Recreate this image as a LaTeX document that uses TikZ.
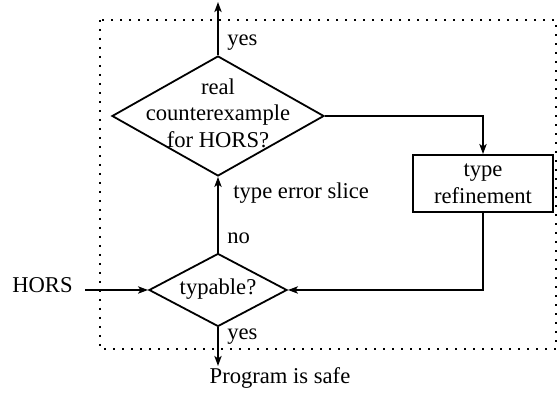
\documentclass[tikz,border=0pt]{standalone}
\usepackage{fontspec}
\setmainfont{Liberation Serif}
\usetikzlibrary{shapes.geometric,arrows.meta}
\begin{document}
\begin{tikzpicture}[x=0.5pt,y=-0.5pt,
  every node/.style={font=\fontsize{11.3}{13.3}\selectfont},
  flow/.style={line width=0.9pt,-{Stealth[length=5pt,width=3.6pt,inset=1.2pt]}},
  plain/.style={line width=0.9pt},
  dec/.style={diamond,draw,line width=0.9pt,inner sep=0pt},
  procbox/.style={rectangle,draw,line width=0.9pt,inner sep=0pt,minimum width=70pt,minimum height=28.5pt,align=center},
  lbl/.style={anchor=west,inner sep=0pt}]
\useasboundingbox (0,0) rectangle (558,394);
\draw[dotted,line width=1pt,dash pattern=on 0.9pt off 3.6pt] (100,20) rectangle (556,349);
% nodes
\node[dec,minimum width=106pt,minimum height=60pt] (q1) at (218,116) {};
\node[align=center,inner sep=0pt] (q1t) at (218,113) {real\\counterexample\\for HORS?};
\node[dec,minimum width=69pt,minimum height=36.5pt] (q2) at (218,290) {};
\node[inner sep=0pt] (q2t) at (218,289) {typable?};
\node[procbox] (ref) at (483,183.5) {type\\refinement};
\node[anchor=east,inner sep=0pt] (hors) at (73,285) {HORS};
\node[inner sep=0pt] (safe) at (280,378) {Program is safe};
\coordinate (top) at (218,2);
\coordinate (hstart) at (85,290);
\coordinate (down) at (218,366);
% connectors
\draw[flow] (q1.north) -- (top);
\draw[flow] (hstart) -- (q2.west);
\draw[flow] (q2.north) -- (q1.south);
\draw[flow] (q1.east) -| (ref.north);
\draw[flow] (ref.south) |- (q2.east);
\draw[flow] (q2.south) -- (down);
% labels
\node[lbl] (l1) at (227,43) {yes};
\node[lbl] (l2) at (233,193) {type error slice};
\node[lbl] (l3) at (227,238) {no};
\node[lbl] (l4) at (227,337) {yes};
\end{tikzpicture}
\end{document}
